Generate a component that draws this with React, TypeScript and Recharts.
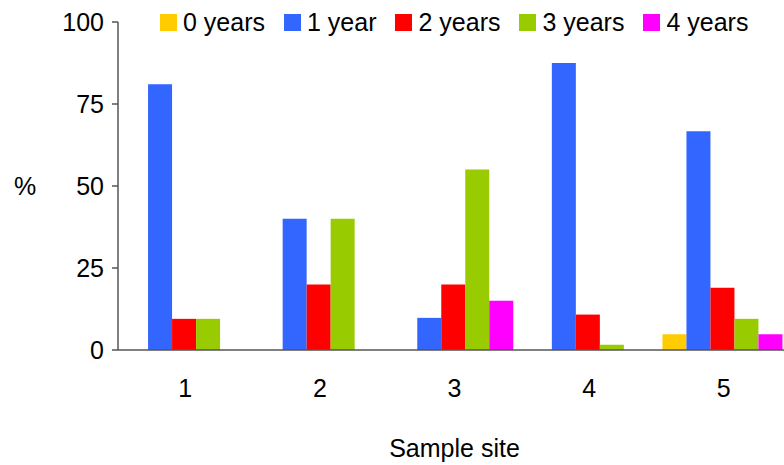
import { Bar, BarChart, Label, XAxis, YAxis } from 'recharts';

const sites = ['1', '2', '3', '4', '5'];
const years0 = [0, 0, 0, 0, 4.8];
const years1 = [81, 40, 9.8, 87.5, 66.7];
const years2 = [9.5, 20, 20, 10.8, 19];
const years3 = [9.5, 40, 55, 1.6, 9.5];
const years4 = [0, 0, 15, 0, 4.8];
const yTicks = [0, 25, 50, 75, 100];
const edgeTicks = [0, 1, 2, 3, 4, 5];

const series = [
  { key: 'y0', name: '0 years', color: '#ffcc00' },
  { key: 'y1', name: '1 year', color: '#3366ff' },
  { key: 'y2', name: '2 years', color: '#ff0000' },
  { key: 'y3', name: '3 years', color: '#99cc00' },
  { key: 'y4', name: '4 years', color: '#ff00ff' },
];

const data = sites.map((site, i) => ({
  site,
  y0: years0[i],
  y1: years1[i],
  y2: years2[i],
  y3: years3[i],
  y4: years4[i],
}));

const fontFamily = 'Liberation Sans, Arial, sans-serif';
const font = { fontSize: 25, fill: '#000', fontFamily };
const axisColor = '#555';

function LegendRow() {
  return (
    <div style={{ position: 'absolute', top: 8, left: 160, display: 'flex', fontFamily, fontSize: 25, lineHeight: '28px', color: '#000' }}>
      {series.map((s) => (
        <div key={s.key} style={{ display: 'flex', alignItems: 'center', marginRight: 19 }}>
          <span style={{ width: 17, height: 17, background: s.color, marginRight: 6 }}/>
          <span>{s.name}</span>
        </div>
      ))}
    </div>
  );
}

export default function App() {
  return (
    <div style={{ position: 'fixed', left: 0, top: 0, width: 784, height: 465, overflow: 'hidden', background: '#fff' }}>
      <BarChart width={800} height={465} data={data} margin={{ top: 22, right: 9, left: 0, bottom: 0 }}
        barCategoryGap="4.5%" barGap={0}>
        {/* band edges: numeric axis drawn only for the boundary tick marks */}
        <XAxis xAxisId="a" type="number" domain={[0, 5]} allowDataOverflow ticks={edgeTicks} interval={0} tick={false} height={1}
          tickSize={8} axisLine={{ stroke: axisColor, strokeWidth: 1.5 }} tickLine={{ stroke: axisColor, strokeWidth: 1.5 }}/>
        <XAxis xAxisId="b" dataKey="site" height={114} axisLine={false} tickLine={false} tickSize={0} tickMargin={28}
          tick={font}>
          <Label value="Sample site" position="insideBottom" offset={8} style={font}/>
        </XAxis>
        <YAxis width={118} domain={[0, 100]} ticks={yTicks} interval={0} tick={font} tickSize={6} tickMargin={8}
          axisLine={{ stroke: axisColor, strokeWidth: 1.5 }} tickLine={{ stroke: axisColor, strokeWidth: 1.5 }}>
          <Label value="%" position="insideLeft" offset={14} style={font}/>
        </YAxis>
        {series.map((s) => (
          <Bar key={s.key} xAxisId="b" dataKey={s.key} name={s.name} fill={s.color} isAnimationActive={false}/>
        ))}
      </BarChart>
      <LegendRow/>
    </div>
  );
}
